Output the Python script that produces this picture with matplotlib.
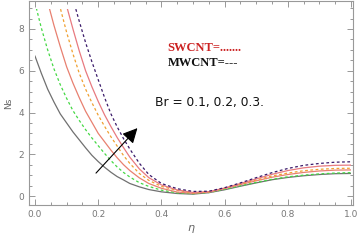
import matplotlib
matplotlib.use("Agg")
import matplotlib.pyplot as plt
from matplotlib.patches import Rectangle
from matplotlib.ticker import MultipleLocator

eta = [0, 0.02, 0.04, 0.06, 0.08, 0.1, 0.12, 0.14, 0.16, 0.18, 0.2, 0.22, 0.24, 0.26,
       0.28, 0.3, 0.33, 0.36, 0.4, 0.45, 0.5, 0.55, 0.6, 0.65, 0.7, 0.75, 0.8, 0.85,
       0.9, 0.95, 1.0]

ns_gray = [6.7, 5.88, 5.12, 4.5, 3.93, 3.5, 3.07, 2.69, 2.31, 1.95, 1.65, 1.38, 1.14, 0.93,
           0.77, 0.6, 0.44, 0.31, 0.2, 0.12, 0.09, 0.16, 0.3, 0.47, 0.63, 0.78, 0.89, 0.97,
           1.03, 1.07, 1.08]
ns_green = [9.25, 8.05, 7.0, 6.09, 5.33, 4.68, 4.09, 3.62, 3.18, 2.78, 2.41, 2.04, 1.7, 1.39,
            1.13, 0.91, 0.64, 0.46, 0.28, 0.15, 0.11, 0.17, 0.32, 0.49, 0.65, 0.8, 0.92, 1.0,
            1.06, 1.1, 1.12]
ns_red = [11.5, 10.5, 9.3, 8.17, 7.15, 6.19, 5.41, 4.71, 4.06, 3.53, 3.0, 2.6, 2.2, 1.83,
          1.5, 1.22, 0.87, 0.6, 0.37, 0.19, 0.13, 0.19, 0.36, 0.55, 0.73, 0.9, 1.03, 1.13,
          1.2, 1.24, 1.25]
ns_orange = [13.5, 12.5, 11.2, 10.1, 9.0, 7.84, 6.81, 5.88, 5.12, 4.47, 3.87, 3.34, 2.84, 2.39,
             1.94, 1.56, 1.08, 0.75, 0.46, 0.27, 0.15, 0.2, 0.37, 0.57, 0.77, 0.96, 1.1, 1.21,
             1.28, 1.32, 1.33]
ns_pink = [15.0, 14.0, 12.8, 11.3, 10.2, 9.1, 8.0, 6.95, 6.0, 5.23, 4.53, 3.89, 3.33, 2.8,
           2.32, 1.86, 1.3, 0.88, 0.53, 0.29, 0.17, 0.21, 0.38, 0.6, 0.82, 1.04, 1.22, 1.35,
           1.43, 1.47, 1.48]
ns_purple = [16.0, 15.0, 14.0, 13.0, 12.0, 10.5, 9.44, 8.37, 7.35, 6.43, 5.57, 4.72, 3.94, 3.31,
             2.75, 2.25, 1.57, 1.03, 0.6, 0.35, 0.22, 0.23, 0.4, 0.63, 0.88, 1.12, 1.32, 1.47,
             1.56, 1.62, 1.64]

series = [
    (ns_gray, "#707070", "-"),
    (ns_green, "#44d844", "--"),
    (ns_red, "#e88070", "-"),
    (ns_orange, "#f0a030", "--"),
    (ns_pink, "#e87a80", "-"),
    (ns_purple, "#3a1a6a", "--"),
]

xticks = [0.0, 0.2, 0.4, 0.6, 0.8, 1.0]
yticks = [0, 2, 4, 6, 8]

fig = plt.figure(figsize=(3.6, 2.41), dpi=100)
ax = fig.add_axes([29/360, 36/241, 324/360, 204/241])
clip = Rectangle((0, -5), 1, 5 + 8.95, transform=ax.transData)
for vals, col, ls in series:
    ln, = ax.plot(eta, vals, color=col, lw=0.9, ls=ls)
    if ls == "--":
        ln.set_dashes((2.2, 2.0))
    ln.set_clip_path(clip)

ax.set_xlim(-0.019, 1.006)
ax.set_ylim(-0.43, 9.34)
ax.set_xticks(xticks)
ax.set_xticklabels([f"{v:.1f}" for v in xticks])
ax.set_yticks(yticks)
ax.xaxis.set_minor_locator(MultipleLocator(0.05))
ax.yaxis.set_minor_locator(MultipleLocator(0.5))
ax.tick_params(which="both", direction="in", top=True, right=True, colors="#888888",
               labelcolor="#777777", labelsize=6.5, width=0.6)
ax.tick_params(which="major", length=4)
ax.tick_params(which="minor", length=2.2)
for s in ax.spines.values():
    s.set_color("#999999")
    s.set_linewidth(0.8)

ax.set_ylabel("Ns", fontsize=6.5, color="#666666", labelpad=4)
ax.set_xlabel(r"$\eta$", fontsize=8, color="#666666", labelpad=3)

ax.text(0.42, 7.09, "SWCNT=.......", color="#cc2222", fontsize=9, fontweight="bold",
        family="Liberation Serif", va="center")
ax.text(0.42, 6.37, "MWCNT=---", color="#111111", fontsize=9, fontweight="bold",
        family="Liberation Serif", va="center")
ax.text(0.379, 4.5, "Br = 0.1, 0.2, 0.3.", color="#111111", fontsize=8.8,
        family="DejaVu Sans", va="center")

ax.annotate("", xy=(0.33, 3.35), xytext=(0.187, 1.0),
            arrowprops=dict(arrowstyle="-|>,head_length=0.9,head_width=0.45",
                            color="black", lw=0.8, mutation_scale=10))

fig.savefig("out.png", dpi=100)
